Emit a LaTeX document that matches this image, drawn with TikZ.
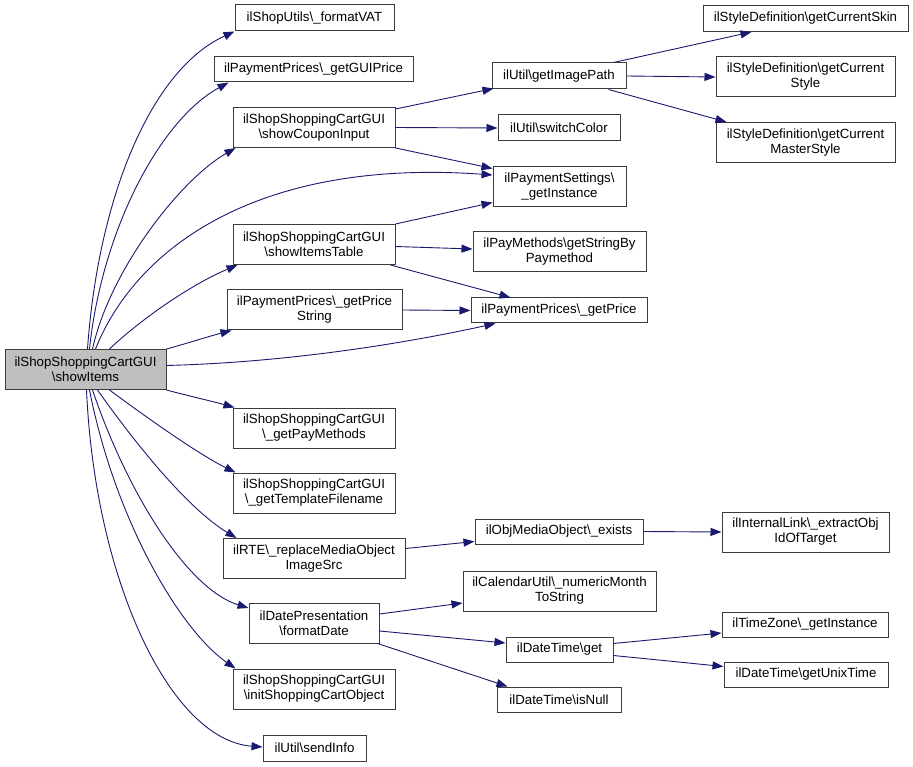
\documentclass[tikz,border=0pt]{standalone}
\usepackage{fontspec}
\setmainfont{Liberation Sans}
\usetikzlibrary{arrows.meta,calc}
\definecolor{edgeblue}{RGB}{25,25,112}
\definecolor{boxline}{RGB}{60,60,60}
\definecolor{rootfill}{RGB}{191,191,191}
\newcommand{\bs}{\textbackslash}
\begin{document}
\begin{tikzpicture}[x=1pt,y=-1pt,
  fn/.style={draw=boxline,line width=1pt,fill=white,inner sep=0pt,align=center,
    font=\fontsize{13.3}{15}\selectfont},
  one/.style={fn,minimum height=26pt},
  two/.style={fn,minimum height=40pt},
  call/.style={draw=edgeblue,line width=0.9pt,-{Triangle[length=11pt,width=8pt]},fill=none}]
\useasboundingbox (0,0) rectangle (913,767);
% nodes
\node[two,fill=rootfill,minimum width=161pt] (root) at (85.5,369.5) {ilShopShoppingCartGUI\\\bs showItems};
\node[one,minimum width=159pt] (vat) at (314.5,18) {ilShopUtils\bs\_formatVAT};
\node[one,minimum width=199pt,minimum height=25pt] (gui) at (313.5,69.5) {ilPaymentPrices\bs\_getGUIPrice};
\node[two,minimum width=162pt] (coupon) at (314,127.5) {ilShopShoppingCartGUI\\\bs showCouponInput};
\node[one,minimum width=134pt] (img) at (559,76) {ilUtil\bs getImagePath};
\node[one,minimum width=122pt] (switch) at (559,128) {ilUtil\bs switchColor};
\node[two,minimum width=133pt] (psget) at (559.5,187) {ilPaymentSettings\bs\\\_getInstance};
\node[one,minimum width=205pt] (skin) at (805.5,18.5) {ilStyleDefinition\bs getCurrentSkin};
\node[two,minimum width=179pt] (style) at (805.5,77) {ilStyleDefinition\bs getCurrent\\Style};
\node[two,minimum width=179pt] (master) at (805.5,142.5) {ilStyleDefinition\bs getCurrent\\MasterStyle};
\node[two,minimum width=162pt] (table) at (314,244.5) {ilShopShoppingCartGUI\\\bs showItemsTable};
\node[two,minimum width=173pt] (paym) at (559.5,252) {ilPayMethods\bs getStringBy\\Paymethod};
\node[two,minimum width=175pt] (pstr) at (314.5,310) {ilPaymentPrices\bs\_getPrice\\String};
\node[one,minimum width=176pt,minimum height=25pt] (price) at (559,310.5) {ilPaymentPrices\bs\_getPrice};
\node[two,minimum width=162pt] (paymeth) at (314,428) {ilShopShoppingCartGUI\\\bs\_getPayMethods};
\node[two,minimum width=162pt] (tpl) at (314,493) {ilShopShoppingCartGUI\\\bs\_getTemplateFilename};
\node[two,minimum width=182pt] (rte) at (314,558.5) {ilRTE\bs\_replaceMediaObject\\ImageSrc};
\node[one,minimum width=168pt,minimum height=25pt] (exists) at (559,531.5) {ilObjMediaObject\bs\_exists};
\node[two,minimum width=167pt] (extract) at (805.5,532) {ilInternalLink\bs\_extractObj\\IdOfTarget};
\node[two,minimum width=193pt] (cal) at (559.5,591) {ilCalendarUtil\bs\_numericMonth\\ToString};
\node[two,minimum width=130pt] (fdate) at (314,623) {ilDatePresentation\\\bs formatDate};
\node[one,minimum width=107pt,minimum height=25pt] (dtget) at (559.5,649.5) {ilDateTime\bs get};
\node[one,minimum width=124pt,minimum height=25pt] (isnull) at (559,699.5) {ilDateTime\bs isNull};
\node[two,minimum width=162pt] (init) at (314,689) {ilShopShoppingCartGUI\\\bs initShoppingCartObject};
\node[one,minimum width=103pt] (send) at (314.5,748) {ilUtil\bs sendInfo};
\node[one,minimum width=166pt,minimum height=25pt] (tz) at (805,624.5) {ilTimeZone\bs\_getInstance};
\node[one,minimum width=164pt,minimum height=25pt] (unix) at (806,674.5) {ilDateTime\bs getUnixTime};
% edges from root (upwards)
\draw[call] ($(root.north west)+(83,0)$) .. controls (98,200) and (150,70) .. (vat.south west);
\draw[call] ($(root.north west)+(85,0)$) .. controls (102,230) and (160,120) .. ($(gui.south west)+(15,0)$);
\draw[call] ($(root.north west)+(88,0)$) .. controls (110,270) and (180,180) .. ($(coupon.south west)+(3,0)$);
\draw[call] ($(root.north west)+(91,0)$) .. controls (135,250) and (255,158) .. ($(psget.west)+(0,-12)$);
\draw[call] ($(root.north west)+(105,0)$) .. controls (140,320) and (190,285) .. ($(table.south west)+(5,0)$);
\draw[call] (root.north east) .. controls (185,344) and (210,336) .. ($(pstr.south west)+(5,0)$);
\draw[call] ($(root.east)+(0,-4)$) .. controls (300,362) and (420,340) .. ($(price.south west)+(25,0)$);
% edges from root (downwards)
\draw[call] (root.south east) .. controls (185,395) and (215,402) .. ($(paymeth.north west)+(2,0)$);
\draw[call] ($(root.south west)+(105,0)$) .. controls (150,420) and (200,455) .. ($(tpl.north west)+(3,0)$);
\draw[call] ($(root.south west)+(93,0)$) .. controls (140,450) and (190,510) .. ($(rte.north west)+(14,0)$);
\draw[call] ($(root.south west)+(88,0)$) .. controls (130,500) and (190,590) .. ($(fdate.west)+(0,-15)$);
\draw[call] ($(root.south west)+(85,0)$) .. controls (115,520) and (180,630) .. ($(init.north west)+(3,0)$);
\draw[call] ($(root.south west)+(82,0)$) .. controls (95,580) and (170,740) .. ($(send.west)+(0,-1)$);
% other edges
\draw[call] ($(coupon.north east)+(0,2)$) -- ($(img.south west)+(2,-1)$);
\draw[call] (coupon.east) -- (switch.west);
\draw[call] (coupon.south east) -- ($(psget.north west)+(0,2)$);
\draw[call] ($(img.north east)+(-13,0)$) -- ($(skin.south west)+(49,0)$);
\draw[call] (img.east) -- (style.west);
\draw[call] ($(img.south east)+(-18,0)$) -- ($(master.north west)+(11,0)$);
\draw[call] (table.north east) -- ($(psget.south west)+(0,-5)$);
\draw[call] ($(table.east)+(0,2)$) -- ($(paym.west)+(0,-3)$);
\draw[call] ($(table.south east)+(-5,0)$) -- ($(price.north west)+(40,0)$);
\draw[call] (pstr.east) -- (price.west);
\draw[call] ($(rte.east)+(0,-10)$) -- ($(exists.south west)+(0,-3)$);
\draw[call] (exists.east) -- (extract.west);
\draw[call] ($(fdate.east)+(0,-9)$) -- ($(cal.west)+(0,12)$);
\draw[call] ($(fdate.east)+(0,8)$) -- ($(dtget.west)+(0,-6.5)$);
\draw[call] ($(fdate.south east)+(-2,0)$) -- ($(isnull.north west)+(11,0)$);
\draw[call] ($(dtget.east)+(0,-6)$) -- ($(tz.west)+(0,8.5)$);
\draw[call] ($(dtget.east)+(0,6)$) -- ($(unix.west)+(0,-8)$);
\end{tikzpicture}
\end{document}
